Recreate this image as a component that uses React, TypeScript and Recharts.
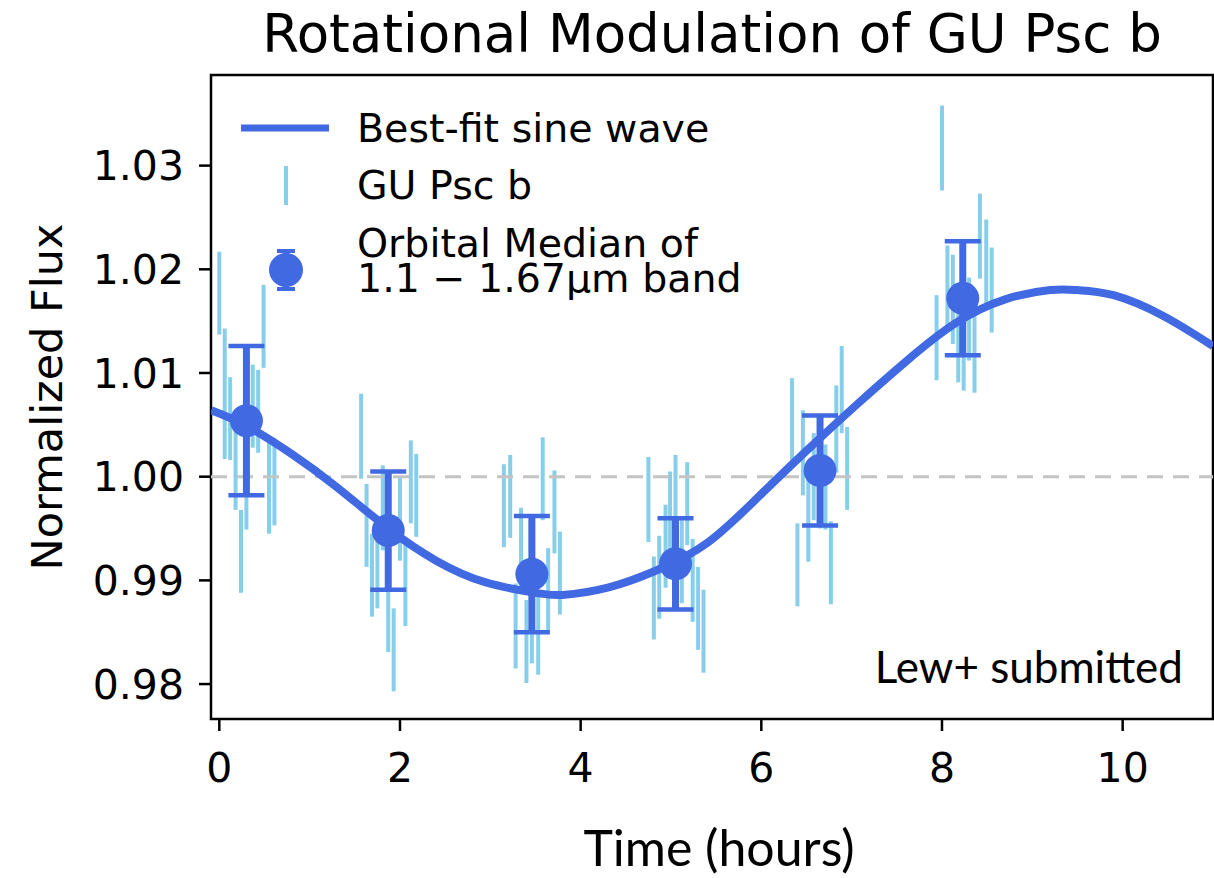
import React from 'react';
import {
  ComposedChart,
  XAxis,
  YAxis,
  Line,
  Scatter,
  ErrorBar,
  ReferenceLine,
  ReferenceArea,
  Legend,
} from 'recharts';

// best-fit sine curve
const fitTimes = [-0.09, 0.3, 0.8, 1.3, 1.87, 2.4, 2.95, 3.5, 3.8, 4.3, 4.85, 5.4, 5.95, 6.5, 7.05, 7.6, 8.15, 8.7, 9.2, 9.5, 9.9, 10.45, 11.0];
const fitFlux = [1.0064, 1.0049, 1.0022, 0.999, 0.995, 0.9919, 0.9898, 0.9888, 0.9886, 0.9893, 0.991, 0.9936, 0.9979, 1.0025, 1.0069, 1.0111, 1.0148, 1.0171, 1.018, 1.018, 1.0175, 1.0155, 1.0126];

// individual GU Psc b points (six orbits)
const obsTimes = [
  0.0, 0.06, 0.12, 0.18, 0.24, 0.3, 0.37, 0.43, 0.49, 0.55, 0.61,
  1.57, 1.63, 1.69, 1.75, 1.81, 1.87, 1.93, 2.0, 2.06, 2.12, 2.18,
  3.15, 3.22, 3.28, 3.34, 3.4, 3.46, 3.53, 3.58, 3.64, 3.71, 3.77,
  4.75, 4.81, 4.87, 4.94, 4.99, 5.05, 5.12, 5.18, 5.24, 5.3, 5.36,
  6.34, 6.4, 6.46, 6.52, 6.58, 6.65, 6.71, 6.77, 6.83, 6.89, 6.95,
  7.94, 8.0, 8.06, 8.12, 8.18, 8.24, 8.3, 8.36, 8.42, 8.49, 8.55,
];
const obsFlux = [
  1.0177, 1.008, 1.0056, 1.0015, 0.9928, 0.999, 1.0068, 1.0063, 1.0145, 0.9989, 0.9995,
  1.0039, 0.9953, 0.9905, 0.9914, 0.997, 0.9872, 0.9833, 0.9959, 0.9896, 0.9995, 0.9982,
  0.9972, 0.9981, 0.9856, 0.993, 0.9841, 0.986, 0.985, 0.9998, 0.9891, 0.9966, 0.9907,
  0.9978, 0.9883, 0.9903, 0.9933, 0.9964, 0.998, 0.9918, 0.9974, 0.99, 0.9873, 0.9851,
  1.0054, 0.9915, 1.0023, 0.9961, 1.0, 0.999, 0.999, 0.9917, 1.0046, 1.0084, 1.0008,
  1.0134, 1.0317, 1.0182, 1.0171, 1.0131, 1.0125, 1.0152, 1.0122, 1.0232, 1.0205, 1.018,
];
const obsErr = [
  0.004, 0.0063, 0.004, 0.0047, 0.004, 0.0041, 0.004, 0.004, 0.004, 0.0044, 0.0042,
  0.0041, 0.004, 0.004, 0.0041, 0.0041, 0.0041, 0.004, 0.004, 0.004, 0.004, 0.004,
  0.004, 0.004, 0.0041, 0.004, 0.004, 0.004, 0.0041, 0.004, 0.004, 0.004, 0.004,
  0.0041, 0.004, 0.004, 0.004, 0.0041, 0.0041, 0.004, 0.004, 0.004, 0.004, 0.004,
  0.0041, 0.004, 0.0041, 0.0043, 0.0042, 0.004, 0.0041, 0.004, 0.0042, 0.0042, 0.004,
  0.0041, 0.0041, 0.0041, 0.0043, 0.004, 0.0042, 0.004, 0.0041, 0.0041, 0.0043, 0.0041,
];

// orbital medians of the 1.1-1.67um band
const medTimes = [0.3, 1.87, 3.46, 5.05, 6.65, 8.23];
const medFlux = [1.0054, 0.9948, 0.9906, 0.9916, 1.0006, 1.0172];
const medErr = [0.0072, 0.0057, 0.0056, 0.0044, 0.0053, 0.0055];

const xTicks = [0, 2, 4, 6, 8, 10];
const yTicks = [0.98, 0.99, 1.0, 1.01, 1.02, 1.03];

const fitData = fitTimes.map((t, i) => ({ t, f: fitFlux[i] }));
const obsData = obsTimes.map((t, i) => ({ t, f: obsFlux[i], e: obsErr[i] }));
const medData = medTimes.map((t, i) => ({ t, f: medFlux[i], e: medErr[i] }));

const ROYAL = '#4169E1';
const SKY = '#87CEEB';
const MPL = 'DejaVu Sans';

const noShape = () => <g />;
const dot = (p: any) => <circle cx={p.cx} cy={p.cy} r={16.5} fill={ROYAL} />;

function LegendBox() {
  return (
    <svg width={800} height={320} style={{ display: 'block' }}>
      <line x1={241} x2={329} y1={128} y2={128} stroke={ROYAL} strokeWidth={7} />
      <text x={357} y={142} fontFamily={MPL} fontSize={39.5} fill="#000">Best-fit sine wave</text>
      <line x1={286} x2={286} y1={166} y2={205} stroke={SKY} strokeWidth={4} />
      <text x={357} y={199} fontFamily={MPL} fontSize={39.5} fill="#000">GU Psc b</text>
      <line x1={286} x2={286} y1={250} y2={290} stroke={ROYAL} strokeWidth={6} />
      <line x1={277} x2={295} y1={251} y2={251} stroke={ROYAL} strokeWidth={4} />
      <line x1={277} x2={295} y1={289} y2={289} stroke={ROYAL} strokeWidth={4} />
      <circle cx={286} cy={270} r={17} fill={ROYAL} />
      <text x={357} y={257} fontFamily={MPL} fontSize={39.5} fill="#000">Orbital Median of</text>
      <text x={357} y={292} fontFamily={MPL} fontSize={39.5} fill="#000">1.1 − 1.67μm band</text>
    </svg>
  );
}

export default function App() {
  return (
    <div style={{ position: 'absolute', left: 0, top: 0, width: 1214, height: 878, background: '#fff' }}>
      <ComposedChart width={1214} height={878} margin={{ top: 75, right: 1, left: 0, bottom: 0 }}>
        <XAxis
          type="number"
          dataKey="t"
          domain={[-0.092, 11.0]}
          allowDataOverflow
          ticks={xTicks}
          height={159}
          axisLine={false}
          tickSize={12}
          tickMargin={22}
          tickLine={{ stroke: '#000', strokeWidth: 2.5 }}
          tick={{ fill: '#000', fontSize: 41, fontFamily: MPL }}
        />
        <YAxis
          type="number"
          dataKey="f"
          domain={[0.97663, 1.03874]}
          allowDataOverflow
          ticks={yTicks}
          width={211}
          axisLine={false}
          tickSize={12}
          tickMargin={15}
          tickLine={{ stroke: '#000', strokeWidth: 2.5 }}
          tick={{ fill: '#000', fontSize: 41, fontFamily: MPL }}
          tickFormatter={(v: number) => v.toFixed(2)}
        />
        <Legend
          layout="vertical"
          align="center"
          verticalAlign="middle"
          wrapperStyle={{ left: 0, top: 0, width: 800, height: 320, pointerEvents: 'none' }}
          content={() => <LegendBox />}
        />
        <Scatter data={obsData} dataKey="f" shape={noShape} isAnimationActive={false} legendType="none">
          <ErrorBar dataKey="e" direction="y" width={0} stroke={SKY} strokeWidth={4} />
        </Scatter>
        <ReferenceLine y={1} stroke="#c4c4c4" strokeWidth={3} strokeDasharray="16 10" />
        <Line
          data={fitData}
          dataKey="f"
          type="natural"
          stroke={ROYAL}
          strokeWidth={8}
          dot={false}
          activeDot={false}
          isAnimationActive={false}
          legendType="none"
        />
        <Scatter data={medData} dataKey="f" shape={dot} isAnimationActive={false} legendType="none">
          <ErrorBar dataKey="e" direction="y" width={0} stroke={ROYAL} strokeWidth={7} />
          <ErrorBar dataKey="e" direction="y" width={18} stroke={ROYAL} strokeWidth={4.5} />
        </Scatter>
        <ReferenceArea
          x1={-0.092}
          x2={11.0}
          y1={0.97663}
          y2={1.03874}
          fill="none"
          stroke="#000"
          strokeWidth={2.5}
          fillOpacity={0}
        />
        <text x={712} y={52} textAnchor="middle" fontFamily={MPL} fontSize={53} fill="#000">
          Rotational Modulation of GU Psc b
        </text>
        <text x={62} y={397} transform="rotate(-90, 62, 397)" textAnchor="middle" fontFamily={MPL} fontSize={43} fill="#000">
          Normalized Flux
        </text>
        <text x={719} y={866} textAnchor="middle" fontFamily="Lato" fontSize={50} fill="#000">
          Time (hours)
        </text>
        <text x={1183} y={683} textAnchor="end" fontFamily="Lato" fontSize={44} fill="#000">
          Lew+ submitted
        </text>
      </ComposedChart>
    </div>
  );
}
